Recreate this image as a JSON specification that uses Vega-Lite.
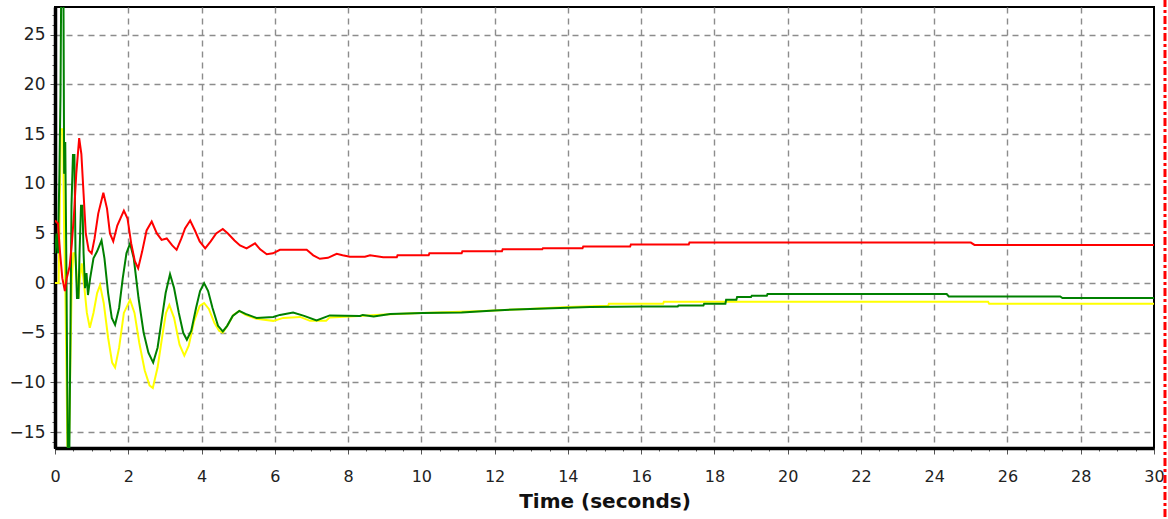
{
  "$schema": "https://vega.github.io/schema/vega-lite/v6.json",
  "width": 1099,
  "height": 441,
  "autosize": {"type": "none"},
  "padding": {"left": 55, "top": 7, "right": 14, "bottom": 71},
  "background": "white",
  "config": {
    "view": {"stroke": "black", "strokeWidth": 2},
    "axis": {
      "domainColor": "black",
      "domainWidth": 3.5,
      "tickColor": "#555555",
      "tickWidth": 1,
      "labelFont": "DejaVu Sans",
      "labelFontSize": 16,
      "labelColor": "#222222",
      "labelOverlap": false,
      "labelFlush": false,
      "gridColor": "#8c8c8c",
      "gridDash": [6, 5],
      "gridWidth": 1.4,
      "titleFont": "DejaVu Sans",
      "titleFontSize": 20,
      "titleFontWeight": "bold",
      "titleColor": "#111111"
    }
  },
  "datasets": {
    "signals": [
      {"s": "yellow", "t": 0, "v": 0}, {"s": "yellow", "t": 0.1, "v": 0}, {"s": "yellow", "t": 0.13, "v": 8}, {"s": "yellow", "t": 0.16, "v": 15.5}, {"s": "yellow", "t": 0.22, "v": 15.5}, {"s": "yellow", "t": 0.25, "v": 5}, {"s": "yellow", "t": 0.28, "v": 0}, {"s": "yellow", "t": 0.34, "v": -16.4}, {"s": "yellow", "t": 0.38, "v": -16.4}, {"s": "yellow", "t": 0.42, "v": -8}, {"s": "yellow", "t": 0.46, "v": 0.5}, {"s": "yellow", "t": 0.5, "v": 3}, {"s": "yellow", "t": 0.55, "v": 3}, {"s": "yellow", "t": 0.6, "v": 0}, {"s": "yellow", "t": 0.64, "v": -1.5}, {"s": "yellow", "t": 0.68, "v": 0.5}, {"s": "yellow", "t": 0.73, "v": 2}, {"s": "yellow", "t": 0.79, "v": 0}, {"s": "yellow", "t": 0.87, "v": -3}, {"s": "yellow", "t": 0.95, "v": -4.5}, {"s": "yellow", "t": 1.05, "v": -3}, {"s": "yellow", "t": 1.15, "v": -1}, {"s": "yellow", "t": 1.23, "v": -0.2}, {"s": "yellow", "t": 1.33, "v": -2}, {"s": "yellow", "t": 1.45, "v": -5.5}, {"s": "yellow", "t": 1.56, "v": -8}, {"s": "yellow", "t": 1.64, "v": -8.5}, {"s": "yellow", "t": 1.75, "v": -6.5}, {"s": "yellow", "t": 1.88, "v": -3}, {"s": "yellow", "t": 2.05, "v": -1.7}, {"s": "yellow", "t": 2.17, "v": -3}, {"s": "yellow", "t": 2.3, "v": -6}, {"s": "yellow", "t": 2.45, "v": -8.8}, {"s": "yellow", "t": 2.58, "v": -10.3}, {"s": "yellow", "t": 2.67, "v": -10.55}, {"s": "yellow", "t": 2.8, "v": -8.5}, {"s": "yellow", "t": 2.95, "v": -4.8}, {"s": "yellow", "t": 3.03, "v": -3}, {"s": "yellow", "t": 3.12, "v": -2.2}, {"s": "yellow", "t": 3.25, "v": -3.5}, {"s": "yellow", "t": 3.4, "v": -6.2}, {"s": "yellow", "t": 3.53, "v": -7.3}, {"s": "yellow", "t": 3.65, "v": -6.3}, {"s": "yellow", "t": 3.8, "v": -3.8}, {"s": "yellow", "t": 3.95, "v": -2.3}, {"s": "yellow", "t": 4.07, "v": -2.0}, {"s": "yellow", "t": 4.2, "v": -2.6}, {"s": "yellow", "t": 4.35, "v": -4}, {"s": "yellow", "t": 4.48, "v": -4.8}, {"s": "yellow", "t": 4.58, "v": -5.0}, {"s": "yellow", "t": 4.72, "v": -4.2}, {"s": "yellow", "t": 4.87, "v": -3.2}, {"s": "yellow", "t": 5.03, "v": -2.8}, {"s": "yellow", "t": 5.2, "v": -3.2}, {"s": "yellow", "t": 5.5, "v": -3.6}, {"s": "yellow", "t": 5.96, "v": -3.8}, {"s": "yellow", "t": 6.23, "v": -3.5}, {"s": "yellow", "t": 6.69, "v": -3.4}, {"s": "yellow", "t": 6.96, "v": -3.8}, {"s": "yellow", "t": 7.4, "v": -3.8}, {"s": "yellow", "t": 7.5, "v": -3.45}, {"s": "yellow", "t": 8.05, "v": -3.35}, {"s": "yellow", "t": 9.0, "v": -3.15}, {"s": "yellow", "t": 10.0, "v": -3.0}, {"s": "yellow", "t": 11.7, "v": -2.8}, {"s": "yellow", "t": 12.9, "v": -2.6}, {"s": "yellow", "t": 14.0, "v": -2.4}, {"s": "yellow", "t": 15.1, "v": -2.28}, {"s": "yellow", "t": 15.12, "v": -2.08}, {"s": "yellow", "t": 16.6, "v": -2.08}, {"s": "yellow", "t": 16.62, "v": -1.88}, {"s": "yellow", "t": 25.47, "v": -1.88}, {"s": "yellow", "t": 25.5, "v": -2.08}, {"s": "yellow", "t": 30, "v": -2.08},

      {"s": "green", "t": 0, "v": 3}, {"s": "green", "t": 0.04, "v": 5}, {"s": "green", "t": 0.08, "v": 3}, {"s": "green", "t": 0.12, "v": 11}, {"s": "green", "t": 0.15, "v": 19}, {"s": "green", "t": 0.17, "v": 30}, {"s": "green", "t": 0.23, "v": 30}, {"s": "green", "t": 0.25, "v": 11}, {"s": "green", "t": 0.28, "v": 14.2}, {"s": "green", "t": 0.31, "v": 2}, {"s": "green", "t": 0.35, "v": -17.5}, {"s": "green", "t": 0.39, "v": -17.5}, {"s": "green", "t": 0.42, "v": -5.5}, {"s": "green", "t": 0.45, "v": 7.8}, {"s": "green", "t": 0.49, "v": 12.9}, {"s": "green", "t": 0.53, "v": 12.9}, {"s": "green", "t": 0.56, "v": 3}, {"s": "green", "t": 0.6, "v": -1.5}, {"s": "green", "t": 0.64, "v": -1.5}, {"s": "green", "t": 0.67, "v": 3}, {"s": "green", "t": 0.71, "v": 7.8}, {"s": "green", "t": 0.75, "v": 7.8}, {"s": "green", "t": 0.78, "v": 3}, {"s": "green", "t": 0.82, "v": -0.5}, {"s": "green", "t": 0.86, "v": 1}, {"s": "green", "t": 0.9, "v": -1.2}, {"s": "green", "t": 0.96, "v": 0.5}, {"s": "green", "t": 1.05, "v": 2.5}, {"s": "green", "t": 1.15, "v": 3.2}, {"s": "green", "t": 1.27, "v": 4.3}, {"s": "green", "t": 1.35, "v": 2.5}, {"s": "green", "t": 1.45, "v": -1}, {"s": "green", "t": 1.55, "v": -3.5}, {"s": "green", "t": 1.64, "v": -4.2}, {"s": "green", "t": 1.75, "v": -2.5}, {"s": "green", "t": 1.85, "v": 0.5}, {"s": "green", "t": 1.95, "v": 3}, {"s": "green", "t": 2.05, "v": 4.0}, {"s": "green", "t": 2.15, "v": 2.5}, {"s": "green", "t": 2.28, "v": -1.5}, {"s": "green", "t": 2.42, "v": -5}, {"s": "green", "t": 2.55, "v": -7}, {"s": "green", "t": 2.68, "v": -8.0}, {"s": "green", "t": 2.8, "v": -6.5}, {"s": "green", "t": 2.92, "v": -3.5}, {"s": "green", "t": 3.02, "v": -1}, {"s": "green", "t": 3.14, "v": 0.9}, {"s": "green", "t": 3.25, "v": -0.5}, {"s": "green", "t": 3.38, "v": -3}, {"s": "green", "t": 3.5, "v": -5}, {"s": "green", "t": 3.6, "v": -5.7}, {"s": "green", "t": 3.72, "v": -4.8}, {"s": "green", "t": 3.85, "v": -2.5}, {"s": "green", "t": 3.96, "v": -0.8}, {"s": "green", "t": 4.07, "v": 0}, {"s": "green", "t": 4.18, "v": -0.8}, {"s": "green", "t": 4.3, "v": -2.5}, {"s": "green", "t": 4.45, "v": -4.3}, {"s": "green", "t": 4.58, "v": -4.86}, {"s": "green", "t": 4.7, "v": -4.3}, {"s": "green", "t": 4.85, "v": -3.3}, {"s": "green", "t": 5.03, "v": -2.8}, {"s": "green", "t": 5.2, "v": -3.1}, {"s": "green", "t": 5.5, "v": -3.5}, {"s": "green", "t": 5.96, "v": -3.4}, {"s": "green", "t": 6.14, "v": -3.2}, {"s": "green", "t": 6.5, "v": -2.95}, {"s": "green", "t": 6.8, "v": -3.3}, {"s": "green", "t": 7.14, "v": -3.75}, {"s": "green", "t": 7.5, "v": -3.25}, {"s": "green", "t": 8.33, "v": -3.3}, {"s": "green", "t": 8.4, "v": -3.2}, {"s": "green", "t": 8.7, "v": -3.35}, {"s": "green", "t": 9.15, "v": -3.1}, {"s": "green", "t": 10.05, "v": -3.0}, {"s": "green", "t": 11.1, "v": -2.95}, {"s": "green", "t": 12.0, "v": -2.75}, {"s": "green", "t": 12.97, "v": -2.6}, {"s": "green", "t": 14.6, "v": -2.4}, {"s": "green", "t": 16.05, "v": -2.35}, {"s": "green", "t": 17.0, "v": -2.35}, {"s": "green", "t": 17.02, "v": -2.25}, {"s": "green", "t": 17.7, "v": -2.25}, {"s": "green", "t": 17.72, "v": -2.08}, {"s": "green", "t": 18.3, "v": -2.08}, {"s": "green", "t": 18.32, "v": -1.68}, {"s": "green", "t": 18.6, "v": -1.68}, {"s": "green", "t": 18.62, "v": -1.4}, {"s": "green", "t": 19.0, "v": -1.4}, {"s": "green", "t": 19.02, "v": -1.28}, {"s": "green", "t": 19.43, "v": -1.28}, {"s": "green", "t": 19.45, "v": -1.1}, {"s": "green", "t": 24.34, "v": -1.1}, {"s": "green", "t": 24.4, "v": -1.35}, {"s": "green", "t": 27.44, "v": -1.35}, {"s": "green", "t": 27.5, "v": -1.5}, {"s": "green", "t": 30, "v": -1.5},

      {"s": "red", "t": 0, "v": 6.3}, {"s": "red", "t": 0.08, "v": 6.0}, {"s": "red", "t": 0.14, "v": 3}, {"s": "red", "t": 0.2, "v": 0.5}, {"s": "red", "t": 0.27, "v": -0.8}, {"s": "red", "t": 0.32, "v": 0.5}, {"s": "red", "t": 0.4, "v": 1.7}, {"s": "red", "t": 0.46, "v": 4}, {"s": "red", "t": 0.52, "v": 7}, {"s": "red", "t": 0.58, "v": 11}, {"s": "red", "t": 0.66, "v": 14.6}, {"s": "red", "t": 0.72, "v": 13}, {"s": "red", "t": 0.78, "v": 9}, {"s": "red", "t": 0.84, "v": 5}, {"s": "red", "t": 0.92, "v": 3.3}, {"s": "red", "t": 1.0, "v": 3.0}, {"s": "red", "t": 1.08, "v": 4.5}, {"s": "red", "t": 1.18, "v": 7}, {"s": "red", "t": 1.32, "v": 9.1}, {"s": "red", "t": 1.42, "v": 7.5}, {"s": "red", "t": 1.5, "v": 5}, {"s": "red", "t": 1.59, "v": 4.2}, {"s": "red", "t": 1.7, "v": 5.8}, {"s": "red", "t": 1.88, "v": 7.3}, {"s": "red", "t": 1.98, "v": 6.5}, {"s": "red", "t": 2.08, "v": 4}, {"s": "red", "t": 2.18, "v": 2.2}, {"s": "red", "t": 2.27, "v": 1.5}, {"s": "red", "t": 2.38, "v": 3.2}, {"s": "red", "t": 2.5, "v": 5.3}, {"s": "red", "t": 2.64, "v": 6.2}, {"s": "red", "t": 2.78, "v": 5}, {"s": "red", "t": 2.91, "v": 4.35}, {"s": "red", "t": 3.05, "v": 4.5}, {"s": "red", "t": 3.2, "v": 3.8}, {"s": "red", "t": 3.32, "v": 3.35}, {"s": "red", "t": 3.45, "v": 4.5}, {"s": "red", "t": 3.55, "v": 5.5}, {"s": "red", "t": 3.69, "v": 6.3}, {"s": "red", "t": 3.82, "v": 5.3}, {"s": "red", "t": 3.95, "v": 4.2}, {"s": "red", "t": 4.1, "v": 3.5}, {"s": "red", "t": 4.25, "v": 4.2}, {"s": "red", "t": 4.4, "v": 5}, {"s": "red", "t": 4.58, "v": 5.45}, {"s": "red", "t": 4.72, "v": 5}, {"s": "red", "t": 4.9, "v": 4.3}, {"s": "red", "t": 5.05, "v": 3.8}, {"s": "red", "t": 5.23, "v": 3.5}, {"s": "red", "t": 5.46, "v": 4.0}, {"s": "red", "t": 5.6, "v": 3.4}, {"s": "red", "t": 5.78, "v": 2.9}, {"s": "red", "t": 5.95, "v": 3.0}, {"s": "red", "t": 6.14, "v": 3.35}, {"s": "red", "t": 6.87, "v": 3.35}, {"s": "red", "t": 7.05, "v": 2.8}, {"s": "red", "t": 7.23, "v": 2.45}, {"s": "red", "t": 7.45, "v": 2.55}, {"s": "red", "t": 7.69, "v": 2.95}, {"s": "red", "t": 7.85, "v": 2.8}, {"s": "red", "t": 8.05, "v": 2.65}, {"s": "red", "t": 8.46, "v": 2.65}, {"s": "red", "t": 8.6, "v": 2.8}, {"s": "red", "t": 8.96, "v": 2.6}, {"s": "red", "t": 9.33, "v": 2.6}, {"s": "red", "t": 9.35, "v": 2.8}, {"s": "red", "t": 10.2, "v": 2.8}, {"s": "red", "t": 10.22, "v": 3.0}, {"s": "red", "t": 11.1, "v": 3.0}, {"s": "red", "t": 11.12, "v": 3.2}, {"s": "red", "t": 12.2, "v": 3.2}, {"s": "red", "t": 12.22, "v": 3.4}, {"s": "red", "t": 13.3, "v": 3.4}, {"s": "red", "t": 13.32, "v": 3.52}, {"s": "red", "t": 14.4, "v": 3.52}, {"s": "red", "t": 14.42, "v": 3.68}, {"s": "red", "t": 15.7, "v": 3.68}, {"s": "red", "t": 15.72, "v": 3.9}, {"s": "red", "t": 17.3, "v": 3.9}, {"s": "red", "t": 17.32, "v": 4.08}, {"s": "red", "t": 25.0, "v": 4.08}, {"s": "red", "t": 25.1, "v": 3.85}, {"s": "red", "t": 30, "v": 3.85}
    ],
    "marker": [{"t": 30.3, "v": 28.6, "v2": -24}]
  },
  "layer": [
    {
      "data": {"name": "signals"},
      "transform": [{"filter": "datum.s === 'yellow'"}],
      "mark": {"type": "line", "clip": true, "color": "#ffff00", "strokeWidth": 2},
      "encoding": {
        "x": {
          "field": "t", "type": "quantitative",
          "scale": {"domain": [0, 30], "nice": false, "zero": false},
          "axis": {
            "title": "Time (seconds)",
            "titlePadding": 7,
            "tickCount": 200,
            "values": [0,0.5,1,1.5,2,2.5,3,3.5,4,4.5,5,5.5,6,6.5,7,7.5,8,8.5,9,9.5,10,10.5,11,11.5,12,12.5,13,13.5,14,14.5,15,15.5,16,16.5,17,17.5,18,18.5,19,19.5,20,20.5,21,21.5,22,22.5,23,23.5,24,24.5,25,25.5,26,26.5,27,27.5,28,28.5,29,29.5,30],
            "labelExpr": "datum.value % 2 === 0 ? format(datum.value, 'd') : ''",
            "labelPadding": 14,
            "grid": true,
            "gridOpacity": {"condition": {"test": "datum.value % 2 === 0 && datum.value > 0 && datum.value < 30", "value": 1}, "value": 0},
            "tickSize": {"condition": {"test": "datum.value % 2 === 0", "value": 6}, "value": 3}
          }
        },
        "y": {
          "field": "v", "type": "quantitative",
          "scale": {"domain": [-16.6, 27.8], "nice": false, "zero": false},
          "axis": {
            "title": null,
            "tickCount": 200,
            "values": [-16,-15,-14,-13,-12,-11,-10,-9,-8,-7,-6,-5,-4,-3,-2,-1,0,1,2,3,4,5,6,7,8,9,10,11,12,13,14,15,16,17,18,19,20,21,22,23,24,25,26,27],
            "labelExpr": "datum.value % 5 === 0 ? format(datum.value, 'd') : ''",
            "labelFontSize": 17,
            "labelPadding": 5,
            "grid": true,
            "gridOpacity": {"condition": {"test": "datum.value % 5 === 0", "value": 1}, "value": 0},
            "tickSize": {"condition": {"test": "datum.value % 5 === 0", "value": 5}, "value": 3}
          }
        }
      }
    },
    {
      "data": {"name": "signals"},
      "transform": [{"filter": "datum.s === 'green'"}],
      "mark": {"type": "line", "clip": true, "color": "#008000", "strokeWidth": 2},
      "encoding": {
        "x": {"field": "t", "type": "quantitative"},
        "y": {"field": "v", "type": "quantitative"}
      }
    },
    {
      "data": {"name": "signals"},
      "transform": [{"filter": "datum.s === 'red'"}],
      "mark": {"type": "line", "clip": true, "color": "#ff0000", "strokeWidth": 2},
      "encoding": {
        "x": {"field": "t", "type": "quantitative"},
        "y": {"field": "v", "type": "quantitative"}
      }
    },
    {
      "data": {"name": "marker"},
      "mark": {"type": "rule", "clip": false, "color": "#ff0000", "strokeWidth": 3, "strokeDash": [8, 3, 3, 3]},
      "encoding": {
        "x": {"field": "t", "type": "quantitative"},
        "y": {"field": "v", "type": "quantitative"},
        "y2": {"field": "v2"}
      }
    }
  ]
}
